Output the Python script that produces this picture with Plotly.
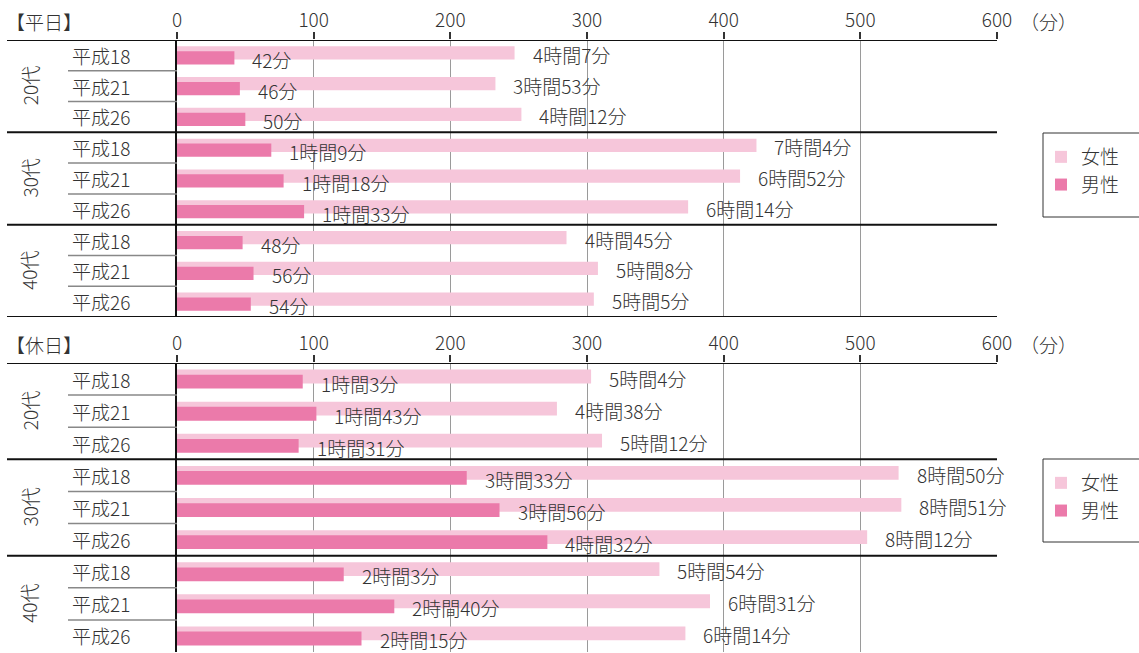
import plotly.graph_objects as go

W, H = 1139, 653

# ---- data ----
age_groups = ["20代", "30代", "40代"]
years = ["平成18", "平成21", "平成26"]
row_labels = years * 3

# weekday (平日) minutes
wd_female = [247, 233, 252, 424, 412, 374, 285, 308, 305]
wd_male = [42, 46, 50, 69, 78, 93, 48, 56, 54]
wd_female_text = ["4時間7分", "3時間53分", "4時間12分", "7時間4分", "6時間52分", "6時間14分",
                  "4時間45分", "5時間8分", "5時間5分"]
wd_male_text = ["42分", "46分", "50分", "1時間9分", "1時間18分", "1時間33分",
                "48分", "56分", "54分"]

# holiday (休日) minutes
hd_female = [303, 278, 311, 528, 530, 505, 353, 390, 372]
hd_male = [92, 102, 89, 212, 236, 271, 122, 159, 135]
hd_female_text = ["5時間4分", "4時間38分", "5時間12分", "8時間50分", "8時間51分", "8時間12分",
                  "5時間54分", "6時間31分", "6時間14分"]
hd_male_text = ["1時間3分", "1時間43分", "1時間31分", "3時間33分", "3時間56分", "4時間32分",
                "2時間3分", "2時間40分", "2時間15分"]

x_ticks = [0, 100, 200, 300, 400, 500, 600]
panel_titles = ["【平日】", "【休日】"]
series_names = ["女性", "男性"]

# ---- style ----
FONT = "Noto Sans CJK JP"
FS = 19
FW = 300
TXT = "#333333"
C_F = "#F6C6DA"
C_M = "#EB7AAA"

X0, X1 = 177, 997  # plot area in px
panels = [
    dict(top=40, bottom=317, xa="x", ya="y", legend="legend", leg_top=133, leg_bot=217,
         group_lines=[-0.5, 2.5, 5.5, 8.5],
         female=wd_female, male=wd_male, ft=wd_female_text, mt=wd_male_text),
    dict(top=363, bottom=652, xa="x2", ya="y2", legend="legend2", leg_top=459, leg_bot=542,
         group_lines=[-0.5, 2.5, 5.5],
         female=hd_female, male=hd_male, ft=hd_female_text, mt=hd_male_text),
]

rows = list(range(len(row_labels)))
BW = 0.43
fig = go.Figure()
annotations = []
shapes = []


def px(x):
    return x / W


def py(y):
    return 1 - y / H


def f(size=FS):
    return dict(family=FONT, size=size, color=TXT, weight=FW)


for pi, p in enumerate(panels):
    fig.add_trace(go.Bar(
        x=p["female"], y=rows, orientation="h", name=series_names[0],
        marker=dict(color=C_F, line=dict(width=0)), width=BW, offset=-0.08 - BW / 2,
        xaxis=p["xa"], yaxis=p["ya"], legend=p["legend"], hoverinfo="skip"))
    fig.add_trace(go.Bar(
        x=p["male"], y=rows, orientation="h", name=series_names[1],
        marker=dict(color=C_M, line=dict(width=0)), width=BW, offset=0.08 - BW / 2,
        xaxis=p["xa"], yaxis=p["ya"], legend=p["legend"], hoverinfo="skip"))

    yref = p["ya"]
    xref = p["xa"]
    # value labels
    for i in rows:
        annotations.append(dict(x=p["female"][i], y=i, xref=xref, yref=yref, text=p["ft"][i],
                                showarrow=False, xanchor="left", yanchor="middle",
                                xshift=16, yshift=1, font=f()))
        annotations.append(dict(x=p["male"][i], y=i, xref=xref, yref=yref, text=p["mt"][i],
                                showarrow=False, xanchor="left", yanchor="middle",
                                xshift=16, yshift=-4, font=f()))
        # row labels
        annotations.append(dict(x=px(70), y=i, xref="paper", yref=yref, text=row_labels[i],
                                showarrow=False, xanchor="left", yanchor="middle", font=f()))
    # group labels
    for g, name in enumerate(age_groups):
        annotations.append(dict(x=px(29), y=g * 3 + 1, xref="paper", yref=yref, text=name,
                                showarrow=False, textangle=-90, xanchor="center", yanchor="middle",
                                font=f()))
    # panel title and unit
    annotations.append(dict(x=px(4), y=py(p["top"] - 19), xref="paper", yref="paper",
                            text=panel_titles[pi], showarrow=False, xanchor="left", yanchor="middle",
                            font=f()))
    annotations.append(dict(x=px(1018), y=py(p["top"] - 19), xref="paper", yref="paper",
                            text="（分）", showarrow=False, xanchor="left", yanchor="middle",
                            font=f()))
    # table lines: thick group lines
    for b in p["group_lines"]:
        shapes.append(dict(type="line", xref="paper", yref=yref, x0=px(7), x1=px(X1),
                           y0=b, y1=b, line=dict(color="#111111", width=2)))
    # thin row separators
    for b in [0.5, 1.5, 3.5, 4.5, 6.5, 7.5]:
        shapes.append(dict(type="line", xref="paper", yref=yref, x0=px(68), x1=px(X0),
                           y0=b, y1=b, line=dict(color="#888888", width=1.5)))
    # legend frame
    shapes.append(dict(type="rect", xref="paper", yref="paper", x0=px(1043), x1=px(1145),
                       y0=py(p["leg_bot"]), y1=py(p["leg_top"]),
                       line=dict(color="#333333", width=1), fillcolor="rgba(0,0,0,0)"))

axis_common = dict(range=[0, 600], side="top", tickvals=x_ticks, ticks="outside", ticklen=7,
                   tickcolor="#333333", tickwidth=1.5, showgrid=True, gridcolor="#9a9a9a", gridwidth=1,
                   zeroline=False, showline=False, fixedrange=True, automargin=False,
                   ticklabelstandoff=-3,
                   tickfont=f(), domain=[px(X0), px(X1)])
yaxis_common = dict(range=[8.5, -0.5], showticklabels=False, showgrid=False, zeroline=False,
                    showline=True, linecolor="#111111", linewidth=2, ticks="", fixedrange=True,
                    automargin=False)

legend_common = dict(x=px(1041), xanchor="left", yanchor="top", bgcolor="rgba(0,0,0,0)",
                     borderwidth=0, traceorder="normal",
                     font=f(), itemclick=False, itemdoubleclick=False)

fig.update_layout(
    width=W, height=H, margin=dict(l=0, r=0, t=0, b=0, autoexpand=False), autosize=False,
    paper_bgcolor="white", plot_bgcolor="white",
    barmode="overlay", showlegend=True,
    xaxis=dict(anchor="y", **axis_common),
    yaxis=dict(anchor="x", domain=[py(panels[0]["bottom"]), py(panels[0]["top"])], **yaxis_common),
    xaxis2=dict(anchor="y2", **axis_common),
    yaxis2=dict(anchor="x2", domain=[py(panels[1]["bottom"]), py(panels[1]["top"])], **yaxis_common),
    legend=dict(y=py(panels[0]["leg_top"] + 5), **legend_common),
    legend2=dict(y=py(panels[1]["leg_top"] + 5), **legend_common),
    annotations=annotations,
    shapes=shapes,
    font=f(),
)

fig.write_html(
    "out.html",
    config={"displayModeBar": False, "responsive": False},
    post_script=(
        "document.body.style.margin='0px';"
        "document.body.style.overflow='hidden';"
        "document.documentElement.style.overflow='hidden';"
    ),
)
